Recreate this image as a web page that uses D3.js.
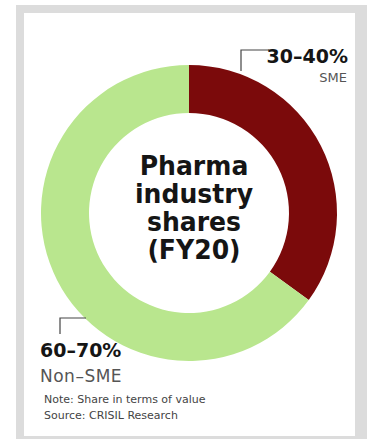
<!DOCTYPE html>
<html>
<head>
<meta charset="utf-8">
<script src="https://cdn.jsdelivr.net/npm/d3@7"></script>
<style>
  html, body { margin: 0; padding: 0; background: #fff; }
  svg { display: block; }
  text { font-family: "DejaVu Sans", sans-serif; }
</style>
</head>
<body>
<div id="chart"></div>
<script>
// share of pharma industry value, FY20 (midpoints of the published ranges)
const categories = ['SME', 'Non-SME'];
const shareValues = [35, 65];
const rangeLabels = ['30–40%', '60–70%'];
const subLabels = ['SME', 'Non–SME'];
const titleLines = ['Pharma', 'industry', 'shares', '(FY20)'];
const noteLines = ['Note: Share in terms of value', 'Source: CRISIL Research'];
const colors = ['#7b0a0b', '#b9e68e'];

const W = 367, H = 444;
const cx = 189, cy = 213, rOuter = 148, rInner = 100;

const svg = d3.select('#chart').append('svg')
  .attr('width', W).attr('height', H);

// grey frame + white card
svg.append('rect').attr('x', 16).attr('y', 5).attr('width', W - 16).attr('height', 434).attr('fill', '#dcdcdc');
svg.append('rect').attr('x', 24).attr('y', 13).attr('width', 331).attr('height', 423).attr('fill', '#fff');

const pie = d3.pie().sort(null).value(d => d);
const arc = d3.arc().innerRadius(rInner).outerRadius(rOuter);

const g = svg.append('g').attr('transform', `translate(${cx},${cy})`);
g.selectAll('path')
  .data(pie(shareValues))
  .join('path')
  .attr('d', arc)
  .attr('fill', (d, i) => colors[i]);

// centre title (squeezed a bit, the original uses a condensed face)
const title = svg.append('g')
  .attr('transform', `translate(${cx + 5},0) scale(0.93,1)`)
  .append('text')
  .attr('text-anchor', 'middle')
  .attr('font-weight', 700)
  .attr('font-size', 27)
  .attr('fill', '#151515');
titleLines.forEach((t, i) => {
  title.append('tspan').attr('x', 0).attr('y', 175 + i * 28).text(t);
});

// leader lines
svg.append('path')
  .attr('d', 'M241,71 V50 H269')
  .attr('fill', 'none').attr('stroke', '#444').attr('stroke-width', 1.2);
svg.append('path')
  .attr('d', 'M60,334 V318 H86')
  .attr('fill', 'none').attr('stroke', '#444').attr('stroke-width', 1.2);

// SME label
svg.append('g').attr('transform', 'translate(348,63) scale(0.95,1)')
  .append('text').attr('text-anchor', 'end')
  .attr('font-size', 20).attr('font-weight', 700).attr('fill', '#151515').text(rangeLabels[0]);
svg.append('text').attr('x', 347).attr('y', 82).attr('text-anchor', 'end')
  .attr('font-size', 13).attr('fill', '#555').text(subLabels[0]);

// Non-SME label
svg.append('g').attr('transform', 'translate(40,357) scale(0.95,1)')
  .append('text')
  .attr('font-size', 20).attr('font-weight', 700).attr('fill', '#151515').text(rangeLabels[1]);
svg.append('text').attr('x', 40).attr('y', 382)
  .attr('font-size', 17).attr('letter-spacing', 0.5).attr('fill', '#555').text(subLabels[1]);

// notes
noteLines.forEach((t, i) => {
  svg.append('text').attr('x', 44).attr('y', 403 + i * 16)
    .attr('font-size', 11).attr('fill', '#444').text(t);
});
</script>
</body>
</html>
